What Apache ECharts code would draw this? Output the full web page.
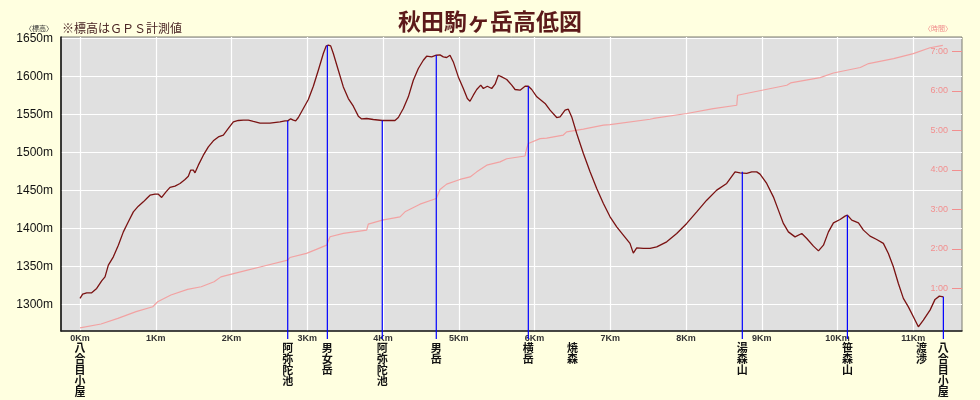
<!DOCTYPE html>
<html>
<head>
<meta charset="utf-8">
<script src="https://cdn.jsdelivr.net/npm/echarts@6/dist/echarts.min.js"></script>
<style>
html,body{margin:0;padding:0;background:#ffffe0;}
#c{width:980px;height:400px;}
</style>
</head>
<body>
<div id="c"></div>
<script>
// Elevation profile (distance km, elevation m)
const elevKm = [0,0.035,0.088,0.154,0.22,0.286,0.33,0.374,0.44,0.506,0.572,0.638,0.704,0.77,0.836,0.88,0.924,0.99,1.034,1.078,1.135,1.188,1.254,1.32,1.386,1.43,1.46,1.496,1.518,1.562,1.628,1.694,1.76,1.826,1.892,1.958,2.024,2.09,2.156,2.222,2.288,2.376,2.508,2.64,2.706,2.742,2.781,2.816,2.847,2.882,2.948,3.014,3.08,3.146,3.212,3.248,3.278,3.309,3.344,3.41,3.476,3.542,3.608,3.674,3.718,3.784,3.872,3.99,4.158,4.202,4.268,4.334,4.4,4.466,4.532,4.576,4.642,4.703,4.752,4.796,4.84,4.884,4.928,4.994,5.06,5.113,5.148,5.192,5.237,5.29,5.324,5.377,5.435,5.479,5.522,5.567,5.633,5.699,5.743,5.809,5.875,5.918,5.963,6.03,6.139,6.205,6.293,6.337,6.403,6.446,6.491,6.557,6.645,6.733,6.821,6.909,6.997,7.085,7.172,7.26,7.304,7.349,7.437,7.525,7.613,7.745,7.877,8.009,8.141,8.273,8.405,8.537,8.647,8.713,8.801,8.867,8.933,8.977,9.065,9.153,9.219,9.285,9.351,9.439,9.528,9.594,9.682,9.748,9.814,9.88,9.946,10.033,10.099,10.13,10.188,10.276,10.342,10.429,10.517,10.605,10.671,10.737,10.803,10.869,10.935,11.001,11.067,11.133,11.221,11.287,11.344,11.397];
const elevM = [1307.9,1313.5,1315.3,1315.3,1321,1331,1336.3,1351.7,1362.6,1378,1395.5,1408.7,1421.8,1429.3,1435,1439.5,1443.8,1445.1,1445.1,1440.8,1448.2,1454,1455.7,1459.2,1464.5,1468.8,1476.7,1476.7,1473.2,1483.3,1496.4,1507.4,1515.3,1520.5,1522.8,1531.6,1540.3,1542.1,1542.5,1542.5,1540.8,1538.6,1538.6,1540.3,1541.6,1541.6,1544.3,1542.5,1541.6,1546,1557.9,1569.7,1587.2,1608.3,1630.3,1639.9,1641.2,1640.3,1630.3,1608.3,1586.3,1571,1560.9,1547.8,1544.2,1544.7,1543.4,1542.1,1542.1,1546,1557.9,1573.2,1595.1,1610.5,1621.4,1626.7,1625.8,1628,1628.4,1625.8,1625,1628,1619.2,1599.5,1584.2,1571,1567.5,1575.4,1582.9,1588.6,1584.2,1587.2,1584.2,1589.9,1601.7,1599.5,1596,1588.6,1582.9,1582,1587.2,1587.2,1582.9,1573.2,1564.5,1555.7,1546,1546.8,1555.7,1557,1546.8,1525,1498.7,1474.5,1452.6,1432.9,1415.3,1402.1,1391.2,1380.3,1367.5,1374.5,1373.7,1373.7,1375.8,1382.4,1393.4,1406.6,1421.8,1437.2,1450.4,1459.2,1474.5,1473.2,1472.4,1474.5,1474.5,1471.5,1459.2,1441.6,1424.1,1406.6,1395.5,1388.9,1393.4,1386.8,1376.7,1370.5,1378,1395.5,1407.4,1411.8,1416.2,1417.5,1410.9,1407.4,1397.8,1389.9,1385.5,1380.3,1367.1,1349.5,1327.6,1307.9,1296.8,1283.7,1270.5,1279.3,1292.5,1306.6,1310.9,1310];

// Elapsed time (distance km, hours)
const timeKm = [0,0.277,0.5,0.74,0.96,1.025,1.2,1.42,1.6,1.77,1.86,2.04,2.21,2.39,2.742,2.77,2.99,3.12,3.256,3.3,3.476,3.784,3.805,3.99,4.224,4.29,4.488,4.703,4.752,4.84,5.016,5.149,5.237,5.369,5.545,5.633,5.875,5.896,5.918,6.073,6.161,6.38,6.424,6.645,6.91,6.997,7.525,7.57,8.01,8.36,8.67,8.68,8.89,9.33,9.38,9.77,9.945,10.3,10.41,10.74,11.0,11.22,11.39];
const timeH = [0,0.097,0.24,0.41,0.535,0.66,0.83,0.975,1.04,1.167,1.29,1.38,1.46,1.546,1.715,1.78,1.885,1.985,2.095,2.305,2.39,2.474,2.626,2.727,2.81,2.937,3.13,3.275,3.5,3.637,3.756,3.82,3.948,4.118,4.2,4.28,4.35,4.54,4.666,4.79,4.8,4.88,4.96,5.03,5.13,5.146,5.28,5.3,5.425,5.55,5.635,5.887,5.97,6.14,6.2,6.335,6.45,6.59,6.69,6.815,6.94,7.09,7.15];

// Landmarks
const landmarkNames = ['八合目小屋','阿弥陀池','男女岳','阿弥陀池','男岳','横岳','焼森','湯森山','笹森山','渡渉','八合目小屋'];
const landmarkKm = [0,2.742,3.265,3.99,4.703,5.918,6.5,8.743,10.13,11.11,11.397];
const landmarkElev = [null,1541.6,1641,1542.1,1628,1587.2,null,1474.5,1417.5,null,1310];

// Tick labels
const kmTicks = [0,1,2,3,4,5,6,7,8,9,10,11];
const elevTicks = [1300,1350,1400,1450,1500,1550,1600,1650];
const hourTicks = [1,2,3,4,5,6,7];

const Y_MIN = 1265, Y_MAX = 1652;

const chart = echarts.init(document.getElementById('c'), null, {renderer:'canvas'});
const CJK = '"Noto Sans CJK JP", sans-serif';

chart.setOption({
  backgroundColor: '#ffffe0',
  animation: false,
  title: {
    text: '秋田駒ヶ岳高低図',
    left: 'center', top: 5,
    textStyle: {fontFamily: CJK, fontSize: 23, fontWeight: 'bold', color: '#5c1a1a'}
  },
  graphic: [
    {type:'text', left: 62, top: 22, style:{text:'※標高はＧＰＳ計測値', font:'12px ' + CJK, fill:'#4a2424'}},
    {type:'text', left: 25, top: 25, style:{text:'〈標高〉', font:'7px ' + CJK, fill:'#333'}},
    {type:'text', left: 924, top: 25, style:{text:'〈時間〉', font:'7px ' + CJK, fill:'#f08a8a'}}
  ],
  grid: {
    left: 61, right: 18, top: 37, bottom: 69,
    show: true, backgroundColor: '#e0e0e0', borderColor: '#7a7a70', borderWidth: 1
  },
  xAxis: {
    type: 'value', min: -0.251, max: 11.643,
    axisLine: {show: true, onZero: false, lineStyle: {color: '#222', width: 1.5}},
    axisTick: {show: false, customValues: kmTicks},
    axisLabel: {customValues: kmTicks, formatter: v => v + 'Km', fontSize: 9, fontWeight: 'bold',
      fontFamily: 'Liberation Sans', color: '#333', margin: 3},
    splitLine: {show: true, lineStyle: {color: '#ffffff', width: 1.2}}
  },
  yAxis: [{
    type: 'value', min: Y_MIN, max: Y_MAX,
    axisLine: {show: true, onZero: false, lineStyle: {color: '#111', width: 1.5}},
    axisTick: {show: false, customValues: elevTicks},
    axisLabel: {customValues: elevTicks, formatter: v => v + 'm', fontSize: 12,
      fontFamily: 'Liberation Sans', margin: 8,
      color: v => (v === 1650 || v === 1300) ? '#ff2020' : '#111'},
    splitLine: {show: true, lineStyle: {color: '#ffffff', width: 1.2}}
  }, {
    type: 'value', min: -0.08, max: 7.362, position: 'right',
    axisLine: {show: false, onZero: false},
    axisTick: {show: true, inside: true, length: 10, customValues: hourTicks, lineStyle: {color: '#f28f8f'}},
    axisLabel: {show: true, inside: true, customValues: hourTicks, formatter: v => v + ':00',
      fontSize: 9, fontFamily: 'Liberation Sans', color: '#f28f8f', margin: 14},
    splitLine: {show: false}
  }],
  series: [{
    type: 'line', name: 'time', yAxisIndex: 1, symbol: 'none',
    data: timeKm.map((k, i) => [k, timeH[i]]),
    lineStyle: {color: '#f2a2a2', width: 1.2}, z: 2
  }, {
    type: 'line', name: 'elev', yAxisIndex: 0, symbol: 'none',
    data: elevKm.map((k, i) => [k, elevM[i]]),
    lineStyle: {color: '#7a1212', width: 1.3}, z: 3
  }, {
    type: 'custom', name: 'landmarks', yAxisIndex: 0, clip: false, z: 4,
    data: landmarkKm.map((k, i) => [k, landmarkElev[i] == null ? Y_MIN : landmarkElev[i]]),
    renderItem: function (params, api) {
      const i = params.dataIndex;
      const km = api.value(0);
      const base = api.coord([km, Y_MIN]);
      const children = [];
      if (landmarkElev[i] != null) {
        const top = api.coord([km, landmarkElev[i]]);
        children.push({type: 'line', shape: {x1: top[0], y1: top[1], x2: top[0], y2: base[1] + 8},
          style: {stroke: '#0000ff', lineWidth: 1.2}});
      }
      children.push({type: 'text', x: base[0], y: base[1] + 11,
        style: {text: landmarkNames[i].split('').join('\n'), fontSize: 11, lineHeight: 11,
          fontWeight: 'bold', fontFamily: CJK, fill: '#111', align: 'center', verticalAlign: 'top'}});
      return {type: 'group', children: children};
    }
  }]
});
</script>
</body>
</html>
